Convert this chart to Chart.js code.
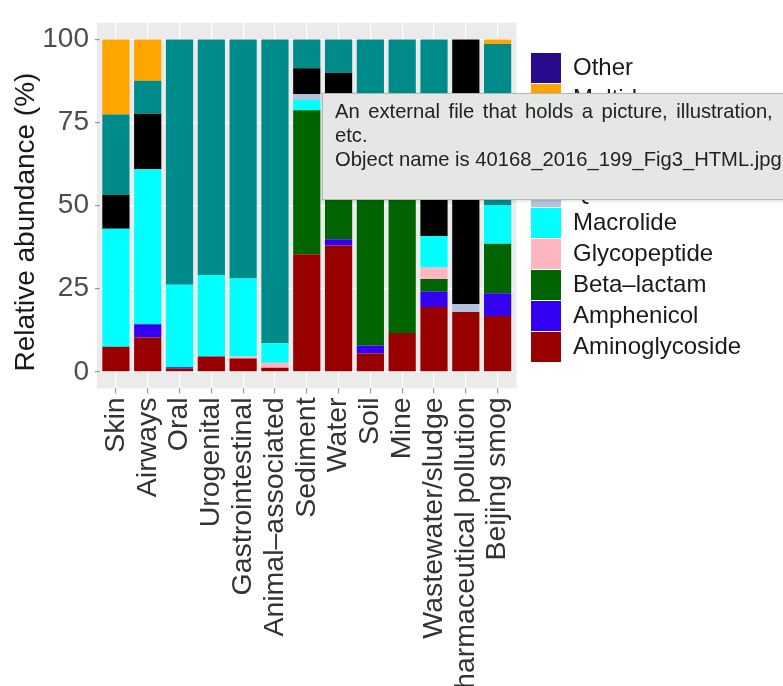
<!DOCTYPE html>
<html>
<head>
<meta charset="utf-8">
<script src="https://cdn.jsdelivr.net/npm/chart.js@4.4.1/dist/chart.umd.min.js"></script>
<style>
  html, body { margin: 0; padding: 0; background: #ffffff; overflow: hidden; width: 783px; height: 686px; }
  #wrap { position: relative; width: 783px; height: 686px; overflow: hidden; }
  #c { position: absolute; left: 0; top: 0; }
  #tip {
    position: absolute; left: 322px; top: 93px; width: 480px; height: 107px;
    box-sizing: border-box; background: #e4e7e3; border: 1px solid #b4b7b4;
    font-family: "Liberation Sans", Arial, Helvetica, sans-serif; font-size: 20.2px; line-height: 24px;
    color: #222; padding: 5px 0 0 12px; white-space: nowrap;
    box-shadow: 0 1px 3px rgba(0,0,0,0.15);
  }
  #tip .l1 { word-spacing: 2.9px; }
</style>
</head>
<body>
<div id="wrap">
  <canvas id="c" width="783" height="686"></canvas>
  <div id="tip"><span class="l1">An external file that holds a picture, illustration,</span><br>etc.<br>Object name is 40168_2016_199_Fig3_HTML.jpg</div>
</div>
<script>
// ---- data ----
const categories = ['Skin', 'Airways', 'Oral', 'Urogenital', 'Gastrointestinal', 'Animal–associated',
  'Sediment', 'Water', 'Soil', 'Mine', 'Wastewater/sludge', 'Pharmaceutical pollution', 'Beijing smog'];

const aminoglycoside = [7.5, 10.3, 1.0, 4.6, 4.0, 1.2, 35.4, 38.0, 5.5, 11.7, 19.5, 18.0, 16.8];
const amphenicol     = [0, 4.0, 0.4, 0, 0, 0, 0, 1.9, 2.4, 0, 4.6, 0, 6.8];
const betaLactam     = [0, 0, 0, 0, 0, 0, 43.3, 39.6, 71.6, 67.8, 3.8, 0, 14.9];
const glycopeptide   = [0, 0, 0, 0, 0.6, 1.5, 0, 0, 0, 0, 3.5, 0, 0];
const macrolide      = [35.5, 46.6, 24.8, 24.5, 23.5, 5.9, 3.1, 3.3, 0, 0, 9.4, 0, 11.5];
const quinolone      = [0, 0, 0, 0, 0, 0, 1.7, 0, 0, 0, 0, 2.3, 0];
const sulfonamide    = [10.2, 16.7, 0, 0, 0, 0, 7.8, 7.2, 0, 2.7, 16.5, 79.7, 0];
const tetracycline   = [24.2, 10.0, 73.8, 70.9, 71.9, 91.4, 8.7, 10.0, 20.5, 17.8, 42.7, 0, 48.6];
const multidrug      = [22.6, 12.4, 0, 0, 0, 0, 0, 0, 0, 0, 0, 0, 1.4];
const other          = [0, 0, 0, 0, 0, 0, 0, 0, 0, 0, 0, 0, 0];

const seriesNames = ['Aminoglycoside', 'Amphenicol', 'Beta–lactam', 'Glycopeptide', 'Macrolide',
  'Quinolone', 'Sulfonamide', 'Tetracycline', 'Multidrug', 'Other'];
const seriesValues = [aminoglycoside, amphenicol, betaLactam, glycopeptide, macrolide,
  quinolone, sulfonamide, tetracycline, multidrug, other];

const yTicks = [0, 25, 50, 75, 100];
const yTitle = 'Relative abundance (%)';

// ---- styles ----
const seriesColors = ['#990000', '#3300f2', '#006400', '#ffb6c1', '#00ffff',
  '#b0c4de', '#000000', '#008b8b', '#ffa500', '#2a0a8c'];
const FONT = '"Liberation Sans", Arial, Helvetica, sans-serif';
Chart.defaults.font.family = FONT;

// legend width so that the plot ends where the reference panel ends
const mctx = document.createElement('canvas').getContext('2d');
mctx.font = '24px ' + FONT;
const maxLabelW = Math.max(...seriesNames.map(n => mctx.measureText(n).width));
const legendW = Math.ceil(1 + 30 + 12 + maxLabelW + 10);
const padRight = Math.max(0, 783 - 512.6 - legendW);

const panelPlugin = {
  id: 'panelPlugin',
  afterLayout(chart) {
    const lg = chart.legend;
    if (lg) {
      const w = lg.width;
      lg.left = 530;
      lg.right = 530 + w;
      lg.top = 52;
    }
  },
  beforeDraw(chart) {
    const { ctx, chartArea: a } = chart;
    ctx.save();
    ctx.fillStyle = '#ebebeb';
    ctx.fillRect(a.left - 3, a.top, a.right - a.left + 6, a.bottom - a.top);
    ctx.restore();
  },
  afterDraw(chart) {
    const ctx = chart.ctx;
    ctx.save();
    ctx.translate(26, 222);
    ctx.rotate(-Math.PI / 2);
    ctx.textAlign = 'center';
    ctx.textBaseline = 'middle';
    ctx.fillStyle = '#1a1a1a';
    ctx.font = '28px ' + FONT;
    ctx.fillText(yTitle, 0, 0);
    ctx.restore();
  }
};

new Chart(document.getElementById('c'), {
  type: 'bar',
  data: {
    labels: categories,
    datasets: seriesNames.map((name, i) => ({
      label: name,
      data: seriesValues[i],
      backgroundColor: seriesColors[i],
      borderWidth: 0,
      barPercentage: 0.9,
      categoryPercentage: 0.95
    }))
  },
  options: {
    responsive: false,
    animation: false,
    devicePixelRatio: 1,
    layout: { padding: { left: 0, top: 4.2, right: padRight, bottom: 0 } },
    plugins: {
      tooltip: { enabled: false },
      legend: {
        position: 'right',
        align: 'start',
        reverse: true,
        maxWidth: legendW,
        labels: {
          boxWidth: 30,
          boxHeight: 30,
          padding: 1,
          color: '#1a1a1a',
          font: { size: 24, family: FONT }
        }
      }
    },
    scales: {
      x: {
        stacked: true,
        offset: true,
        grid: { display: true, drawOnChartArea: true, offset: false, color: '#ffffff', lineWidth: 1.2, tickLength: 5, tickColor: '#999999' },
        border: { display: false },
        ticks: { autoSkip: false, minRotation: 90, maxRotation: 90, padding: 4, color: '#333333', font: { size: 28.5, family: FONT } },
        afterFit(s) { s.height = 297.6; }
      },
      y: {
        stacked: true,
        min: -5,
        max: 105,
        afterBuildTicks(s) { s.ticks = yTicks.map(v => ({ value: v })); },
        grid: { color: '#ffffff', lineWidth: 1.2, tickLength: 5, tickColor: '#999999' },
        border: { display: false },
        ticks: { padding: 6, color: '#4d4d4d', font: { size: 28, family: FONT } },
        title: { display: false },
        afterFit(s) { s.width = 100; }
      }
    }
  },
  plugins: [panelPlugin]
});
</script>
</body>
</html>
